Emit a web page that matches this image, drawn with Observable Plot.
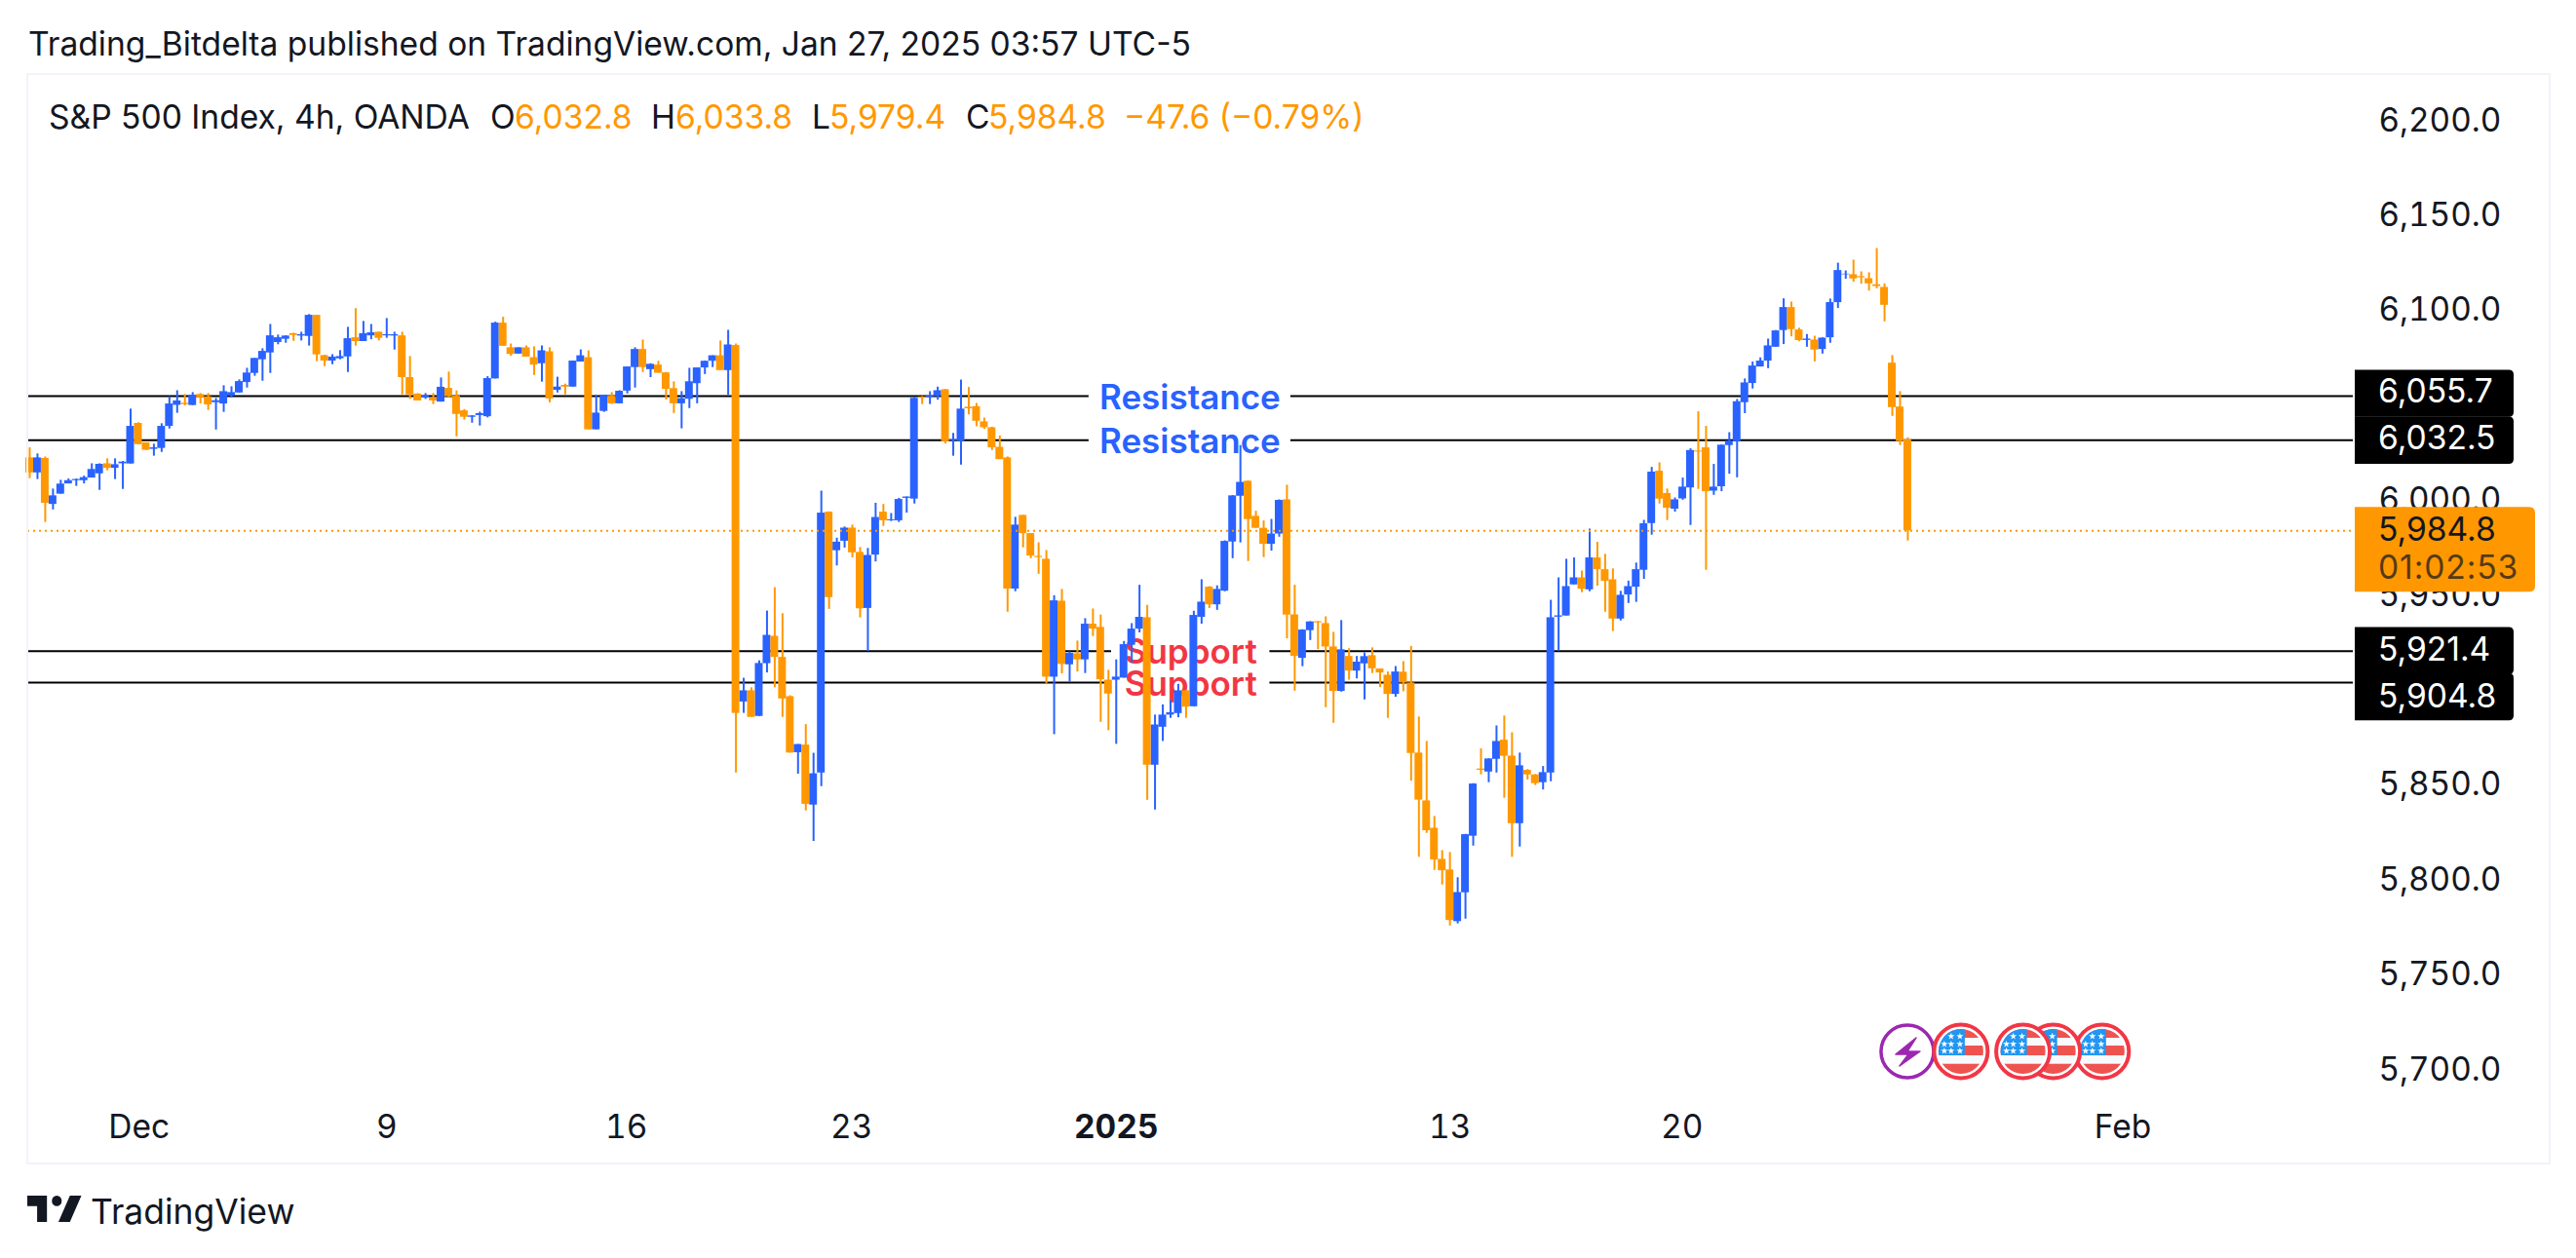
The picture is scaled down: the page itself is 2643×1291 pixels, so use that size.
<!DOCTYPE html>
<html><head><meta charset="utf-8">
<script src="https://cdn.jsdelivr.net/npm/d3@7"></script>
<script src="https://cdn.jsdelivr.net/npm/@observablehq/plot@0.6"></script>
<style>
html,body{margin:0;padding:0;background:#fff;overflow:hidden}
#page{position:relative;width:2643px;height:1291px;font-family:Inter,sans-serif;color:#131722;overflow:hidden}
#page svg{display:block}
.t{position:absolute;white-space:pre;line-height:1;font-size:33.6px}
#pane{position:absolute;left:27px;top:75px;width:2586px;height:1116px;border:2px solid #f0f3fa;pointer-events:none}
</style></head>
<body><div id="page"><div id="pane"></div></div>
<script>
const opens=[6023.2,6015.3,6022.9,5998.7,6004.1,6009.5,6011.2,6011.2,6012.6,6014.8,
6020.1,6017.7,6020.1,6020.0,6041.4,6031.1,6027.7,6028.2,6039.8,6050.9,
6052.0,6050.8,6056.6,6055.4,6052.3,6051.6,6055.7,6057.4,6062.9,6067.7,
6074.9,6078.5,6084.0,6085.7,6088.6,6087.4,6087.2,6098.3,6077.1,6074.2,
6075.4,6076.4,6086.5,6084.5,6087.5,6089.4,6087.5,6087.4,6087.5,6065.5,
6056.8,6054.9,6054.7,6052.6,6059.8,6055.7,6048.0,6044.6,6045.5,6044.9,
6064.8,6094.2,6081.2,6077.9,6081.2,6076.0,6072.8,6079.1,6058.8,6061.4,
6060.5,6073.7,6076.0,6038.0,6047.7,6055.7,6051.7,6058.4,6070.8,6080.3,
6069.7,6072.1,6068.0,6059.7,6051.7,6054.1,6062.3,6070.6,6074.1,6077.0,
6069.2,6082.4,5894.6,5900.5,5887.0,5914.8,5929.2,5918.1,5897.4,5867.9,
5871.9,5840.3,5857.2,5994.6,5974.3,5979.3,5986.2,5973.4,5943.9,5972.0,
5994.6,5990.1,5990.1,6001.9,6001.5,6055.3,6055.1,6055.5,6059.1,6032.2,
6031.9,6049.9,6050.2,6042.2,6039.1,6028.8,6023.2,5954.1,5992.9,5983.3,
5971.3,5969.8,5907.7,5947.7,5914.2,5920.0,5916.8,5935.6,5933.9,5906.1,
5906.1,5907.2,5924.5,5933.0,5939.0,5861.3,5881.3,5887.7,5888.5,5900.5,
5892.1,5939.2,5955.1,5945.8,5953.0,5978.9,6003.0,6010.9,5992.4,5986.1,
5977.7,5983.1,6001.1,5940.5,5917.6,5932.2,5936.9,5935.9,5923.6,5900.2,
5918.6,5910.9,5914.7,5919.0,5912.0,5908.7,5898.6,5910.3,5904.6,5867.7,
5842.5,5828.1,5811.7,5806.1,5778.9,5794.1,5823.9,5859.3,5857.7,5864.4,
5874.5,5866.1,5830.5,5858.6,5856.2,5852.1,5857.2,5939.3,5939.9,5956.3,
5960.0,5953.7,5970.5,5964.3,5959.0,5938.3,5951.0,5955.1,5964.0,5988.6,
6016.2,6004.4,5996.2,6001.6,6007.4,6026.8,6028.5,6005.7,6008.0,6029.7,
6031.7,6052.3,6062.4,6071.1,6074.2,6081.5,6090.3,6102.4,6090.6,6085.1,
6085.3,6080.3,6086.5,6105.0,6119.7,6119.7,6118.7,6117.6,6114.4,6113.0,
6073.1,6050.0,6032.8];
const highs=[6028.5,6025.3,6023.7,6006.8,6011.4,6012.1,6012.1,6013.6,6020.1,6020.1,
6022.7,6022.7,6021.3,6048.9,6041.7,6031.1,6030.4,6041.2,6055.4,6058.6,
6056.6,6057.6,6057.1,6057.1,6054.5,6061.2,6060.7,6064.3,6070.4,6075.6,
6080.7,6093.5,6087.9,6087.5,6088.9,6089.4,6098.7,6098.3,6077.3,6077.6,
6079.7,6092.0,6101.8,6095.1,6093.5,6089.4,6096.6,6089.4,6089.4,6076.6,
6057.1,6057.1,6057.1,6065.3,6068.4,6058.5,6048.7,6045.5,6047.3,6066.0,
6094.7,6097.3,6083.2,6081.2,6082.2,6081.7,6082.2,6081.2,6065.7,6062.1,
6074.2,6080.1,6079.6,6056.2,6056.2,6057.6,6058.6,6071.1,6081.2,6085.3,
6072.8,6074.1,6068.2,6063.3,6058.1,6070.4,6070.6,6074.2,6077.0,6084.8,
6090.4,6083.2,5907.1,5902.1,5916.3,5942.5,5954.8,5941.1,5897.9,5872.2,
5882.7,5867.6,6005.7,5994.8,5980.9,5986.8,5987.8,5976.0,5975.5,5999.3,
5998.7,5993.9,6001.9,6002.6,6055.3,6055.5,6058.1,6060.5,6059.3,6036.1,
6064.2,6060.3,6051.9,6044.2,6039.4,6034.8,6023.7,5991.9,5992.9,5983.3,
5978.5,5974.4,5950.6,5953.9,5921.0,5926.7,5938.5,5943.6,5940.4,5911.3,
5916.8,5926.5,5935.9,5956.1,5945.5,5887.7,5893.1,5895.4,5903.9,5900.5,
5942.4,5959.0,5955.4,5955.8,5979.5,6003.3,6029.7,6011.0,5995.1,5990.0,
5990.8,6001.1,6008.8,5956.1,5932.7,5936.9,5936.9,5939.5,5931.3,5937.5,
5922.7,5918.6,5920.5,5923.1,5912.0,5910.4,5913.3,5915.9,5923.9,5886.7,
5873.8,5834.3,5816.3,5815.3,5802.0,5824.9,5851.6,5869.9,5864.7,5882.0,
5887.2,5878.4,5867.7,5859.0,5856.4,5860.6,5948.2,5960.0,5969.8,5970.5,
5963.6,5985.7,5978.7,5972.4,5964.7,5952.9,5958.3,5967.8,5990.3,6018.2,
6020.6,6006.8,6002.1,6012.6,6028.0,6047.5,6039.8,6019.8,6030.0,6036.5,
6054.0,6064.8,6073.7,6075.9,6085.8,6090.3,6107.0,6105.3,6091.5,6088.2,
6087.3,6086.5,6106.9,6125.8,6121.7,6127.4,6121.2,6120.7,6133.5,6114.9,
6077.1,6058.1,6033.8];
const lows=[6012.3,6011.8,5989.2,5995.8,6004.1,6009.5,6008.2,6009.5,6012.6,6006.1,
6016.4,6011.8,6006.6,6020.0,6030.2,6027.2,6024.1,6026.1,6038.4,6046.7,
6050.6,6050.8,6051.6,6048.2,6037.9,6047.2,6054.9,6057.4,6060.0,6066.2,
6063.6,6067.7,6082.8,6083.6,6084.6,6084.8,6082.1,6073.9,6071.3,6072.3,
6074.9,6068.2,6082.1,6084.5,6085.5,6084.8,6086.2,6080.0,6056.4,6054.0,
6053.2,6054.0,6051.3,6052.6,6054.9,6034.3,6043.1,6041.5,6040.0,6044.3,
6064.8,6082.0,6076.8,6077.9,6076.3,6066.6,6063.1,6052.2,6057.4,6056.4,
6060.5,6073.7,6038.0,6038.0,6047.2,6051.3,6051.7,6056.9,6060.0,6068.2,
6065.5,6067.8,6053.7,6046.6,6038.5,6049.2,6051.7,6067.1,6070.8,6069.2,
6056.2,5857.2,5888.6,5886.5,5887.0,5909.9,5902.1,5886.5,5867.7,5856.6,
5837.2,5821.1,5850.0,5943.4,5966.3,5975.7,5970.5,5938.9,5921.2,5968.4,
5987.1,5989.7,5989.2,5994.1,5998.9,6051.3,6051.3,6053.6,6030.5,6024.1,
6019.4,6045.9,6039.6,6038.2,6027.1,6022.3,5941.9,5952.7,5975.8,5970.1,
5961.9,5904.1,5877.4,5909.4,5905.1,5910.4,5909.6,5929.1,5883.9,5879.5,
5872.3,5907.2,5915.0,5931.0,5842.8,5837.7,5873.8,5886.0,5886.3,5886.0,
5892.1,5935.6,5943.8,5942.9,5952.7,5970.1,5978.4,5968.6,5986.1,5970.7,
5974.1,5981.4,5927.9,5900.3,5913.2,5927.0,5922.2,5891.6,5883.4,5899.8,
5906.1,5906.8,5895.7,5909.6,5902.2,5886.0,5897.1,5900.0,5852.9,5812.8,
5825.4,5805.9,5798.2,5776.6,5777.7,5780.2,5818.7,5856.2,5852.1,5857.2,
5843.9,5812.8,5818.2,5853.5,5850.6,5848.3,5852.6,5921.4,5939.9,5956.3,
5952.2,5952.7,5955.6,5941.9,5931.7,5937.3,5946.5,5947.1,5959.2,5982.5,
5998.9,5990.2,5994.6,6000.9,5987.6,6006.6,5964.0,6003.5,6005.4,6014.6,
6012.7,6046.5,6059.5,6071.1,6070.2,6081.5,6082.9,6087.0,6084.4,6081.5,
6073.8,6077.9,6083.6,6101.9,6117.3,6115.7,6114.7,6111.1,6112.3,6094.9,
6045.1,6029.7,5979.4];
const closes=[6015.3,6023.2,5999.3,6003.2,6009.4,6011.2,6011.8,6012.8,6017.1,6019.8,
6017.7,6019.6,6021.0,6039.8,6030.2,6027.2,6028.5,6039.8,6051.6,6053.2,
6051.3,6056.2,6054.9,6051.1,6053.3,6058.1,6057.6,6063.4,6067.9,6075.6,
6079.3,6087.5,6086.5,6087.4,6087.7,6088.1,6098.3,6077.5,6074.2,6076.3,
6076.6,6086.0,6084.5,6088.6,6089.1,6086.2,6088.1,6088.1,6065.5,6056.4,
6053.2,6055.9,6053.2,6060.4,6055.4,6046.1,6044.6,6045.3,6046.5,6065.0,
6094.2,6082.0,6077.7,6081.2,6076.3,6072.1,6079.6,6054.3,6060.5,6060.5,
6074.2,6077.0,6038.0,6046.8,6056.2,6051.7,6058.3,6071.1,6080.3,6070.8,
6072.5,6067.8,6059.3,6051.7,6054.4,6063.3,6070.6,6074.1,6077.0,6069.2,
6082.7,5888.6,5900.5,5886.5,5914.9,5929.7,5918.1,5896.2,5867.7,5872.2,
5840.7,5856.8,5994.1,5949.6,5978.8,5986.2,5973.2,5943.7,5971.8,5991.8,
5990.1,5990.6,6001.3,6002.6,6054.6,6054.6,6055.8,6058.6,6031.7,6032.9,
6048.9,6049.1,6042.5,6039.1,6028.5,6022.3,5954.1,5987.8,5983.3,5971.5,
5970.7,5907.7,5947.9,5914.4,5920.2,5916.8,5935.6,5933.0,5906.3,5898.8,
5907.7,5924.8,5933.0,5939.2,5861.3,5882.5,5887.7,5889.0,5900.5,5891.9,
5940.2,5947.2,5945.8,5953.9,5979.2,6003.2,6010.3,5990.7,5986.1,5977.7,
5983.1,6000.8,5940.4,5918.6,5932.5,5936.8,5936.3,5923.6,5900.2,5922.1,
5910.9,5915.6,5918.5,5912.1,5909.9,5898.6,5910.4,5904.6,5867.5,5842.9,
5826.8,5811.4,5805.7,5779.5,5794.2,5824.7,5851.4,5858.6,5864.6,5873.8,
5866.0,5830.5,5861.0,5856.2,5851.6,5857.4,5939.0,5940.0,5955.4,5960.0,
5954.0,5970.5,5964.3,5958.2,5938.3,5950.8,5955.4,5964.3,5988.5,6015.7,
6001.5,5996.7,6001.1,6007.8,6027.1,6026.3,6005.4,6007.8,6029.9,6032.1,
6052.8,6062.7,6071.6,6074.2,6082.2,6090.1,6102.4,6090.8,6085.0,6085.8,
6080.0,6086.3,6105.0,6121.9,6120.0,6117.5,6118.1,6114.9,6113.5,6103.6,
6049.7,6031.9,5984.8];

const priceTicks=[5700,5750,5800,5850,5950,6000,6100,6150,6200];
const dateTickSlots=[14.1,46,76.9,105.9,183,212.9,269.7];
const dateTickLabels=["Dec","9","16","23","13","20","Feb"];
const yearSlot=[140];
const yearLabel="2025";
const resistanceLevels=[6055.7,6032.5];
const supportLevels=[5921.4,5904.8];
const lastClose=5984.8;
const countdown="01:02:53";
const eventSlots={bolt:[242],flags:[267.1,260.8,256.9,248.9]};

const UP="#2962ff",DOWN="#ff9800",INK="#131722";
const FONT="Inter, sans-serif";
const candles=opens.map((open,i)=>({i,open,high:highs[i],low:lows[i],close:closes[i]}));
const up=candles.filter(d=>d.close>=d.open), down=candles.filter(d=>d.close<d.open);
const XMIN=-0.25,XMAX=299.4;
const fmt=d3.format(",.1f");

const segments=(levels,center,half)=>levels.flatMap(y=>[{y,x1:XMIN,x2:center-half},{y,x1:center+half,x2:XMAX}]);

function candleMarks(data,color){return [
  Plot.ruleX(data,{x:"i",y1:"low",y2:"high",stroke:color,strokeWidth:2}),
  Plot.rect(data,{x1:d=>d.i-0.5,x2:d=>d.i+0.5,y1:"open",y2:"close",fill:color})
];}

function tags(index,{y}){
  const g=d3.create("svg:g").attr("font-family",FONT).attr("font-size",33.6).attr("text-anchor","start");
  const box=(top,h,w,r,fill)=>g.append("path").attr("fill",fill)
    .attr("d",`M2416,${top}H${2416+w-r}Q${2416+w},${top} ${2416+w},${top+r}V${top+h-r}Q${2416+w},${top+h} ${2416+w-r},${top+h}H2416Z`);
  const label=(txt,cy,fill,op=1)=>g.append("text").attr("x",2440).attr("y",cy).attr("dy","0.36em").attr("fill",fill).attr("opacity",op).text(txt);
  const black=[[resistanceLevels[0],-2.5],[resistanceLevels[1],0.5],[supportLevels[0],0],[supportLevels[1],15]];
  for(const [v,off] of black){
    const c=y(v)+off;
    box(c-24.2,48.4,163,5,"#000");
  }
  black.forEach(([v,off],n)=>{
    const c=y(v)+off;
    label(fmt(v),c-(n<2?2.5:1.5),"#fff");
  });
  const c=y(lastClose);
  box(c-24,87,185,6,DOWN);
  label(fmt(lastClose),c-1.5,INK);
  label(countdown,c+38,INK,0.72).attr("letter-spacing",0.9);
  return g.node();
}

function icons(index,{x}){
  const g=d3.create("svg:g");
  const cy=1079;
  const defs=g.append("defs");
  const boltX=x(eventSlots.bolt[0]);
  g.append("circle").attr("cx",boltX).attr("cy",cy).attr("r",27).attr("fill","#fff").attr("stroke","#9c27b0").attr("stroke-width",3.5);
  g.append("path").attr("transform",`translate(${boltX},${cy})`)
    .attr("d","M9,-14L-12,3H1L-8,15L13,0H0Z").attr("fill","#9c27b0").attr("stroke","#9c27b0").attr("stroke-width",1.5).attr("stroke-linejoin","round");
  const star=d3.symbol(d3.symbolStar,16)();
  eventSlots.flags.forEach((s,n)=>{
    const cx=x(s), id="fc"+n;
    defs.append("clipPath").attr("id",id).append("circle").attr("r",23);
    const f=g.append("g").attr("transform",`translate(${cx},${cy})`);
    f.append("circle").attr("r",27.5).attr("fill","#fff").attr("stroke","#f23645").attr("stroke-width",4);
    const c=f.append("g").attr("clip-path",`url(#${id})`);
    [[-24,-14,"#ef5350"],[-14,-6,"#f8f9fd"],[-6,4,"#ef5350"],[4,12.7,"#f8f9fd"],[12.7,24,"#ef5350"]].forEach(([a,b,col])=>
      c.append("rect").attr("x",-24).attr("width",48).attr("y",a).attr("height",b-a).attr("fill",col));
    c.append("rect").attr("x",-24).attr("y",-24).attr("width",28).attr("height",28).attr("fill","#2196f3");
    [[-9,-16],[0,-16],[-16,-8],[-9,-8],[0,-8],[-16,-1],[-9,-1],[0,-1]].forEach(([a,b])=>
      c.append("path").attr("d",star).attr("transform",`translate(${a-1},${b+0.5})`).attr("fill","#fff"));
  });
  return g.node();
}

const chart=Plot.plot({
  width:2643,height:1291,
  marginLeft:28,marginRight:229,marginTop:125,marginBottom:192,
  style:{fontFamily:FONT,background:"transparent",color:INK},
  x:{domain:[XMIN,XMAX]},
  y:{domain:[5700,6200]},
  marks:[
    Plot.ruleY(segments(resistanceLevels,149.5,13),{y:"y",x1:"x1",x2:"x2",stroke:"#000",strokeWidth:2}),
    Plot.ruleY(segments(supportLevels,149.6,10.2),{y:"y",x1:"x1",x2:"x2",stroke:"#000",strokeWidth:2}),
    Plot.text(resistanceLevels,{y:d=>d,x:()=>149.5,text:()=>"Resistance",fill:UP,fontSize:35,fontWeight:600,fontFamily:FONT,dy:2}),
    Plot.text(supportLevels,{y:d=>d,x:()=>149.6,text:()=>"Support",fill:"#f23645",fontSize:35,fontWeight:600,fontFamily:FONT,dy:2}),
    ...candleMarks(up,UP),
    ...candleMarks(down,DOWN),
    Plot.ruleY([lastClose],{stroke:DOWN,strokeWidth:2,strokeDasharray:"2,4"}),
    Plot.axisY({anchor:"right",ticks:priceTicks,tickFormat:",.1f",tickSize:0,tickPadding:26,fontSize:33.3,fontFamily:FONT,fill:INK,label:null,dy:-1.5}),
    Plot.axisX({anchor:"bottom",ticks:dateTickSlots,tickFormat:d=>dateTickLabels[dateTickSlots.indexOf(d)],tickSize:0,tickPadding:45,fontSize:33.5,fontFamily:FONT,fill:INK,label:null}),
    Plot.axisX({anchor:"bottom",ticks:yearSlot,tickFormat:()=>yearLabel,tickSize:0,tickPadding:45,fontSize:33.5,fontWeight:700,fontFamily:FONT,fill:INK,label:null}),
    tags,
    icons
  ]
});
const page=document.getElementById("page");
chart.style.position="absolute";chart.style.left="0";chart.style.top="0";
page.prepend(chart);

function put(txt,left,top,color){
  const s=document.createElement("div");s.className="t";s.textContent=txt;
  s.style.left=left+"px";s.style.top=top+"px";if(color)s.style.color=color;
  page.appendChild(s);return s;
}
put("Trading_Bitdelta published on TradingView.com, Jan 27, 2025 03:57 UTC-5",29,28);
put("S&P 500 Index, 4h, OANDA",50,103);
[["O",503,INK],["6,032.8",528,DOWN],["H",668,INK],["6,033.8",693,DOWN],["L",833,INK],["5,979.4",851,DOWN],["C",991,INK],["5,984.8",1014,DOWN],["\u221247.6 (\u22120.79%)",1153,DOWN]]
  .forEach(([t,l,c])=>put(t,l,103,c));
put("TradingView",93,1226).style.fontSize="35.5px";
const logo=document.createElementNS("http://www.w3.org/2000/svg","svg");
logo.setAttribute("viewBox","2 6 33 15");logo.setAttribute("preserveAspectRatio","none");
logo.setAttribute("style","position:absolute;left:28px;top:1227px;width:55.5px;height:27px");
logo.innerHTML='<path fill="#131722" d="M14 6H2v6h6v9h6V6zm14 15h-7l7-15h7l-7 15zm-8-9a3 3 0 1 0 0-6 3 3 0 0 0 0 6z"/>';
page.appendChild(logo);
</script></body></html>
